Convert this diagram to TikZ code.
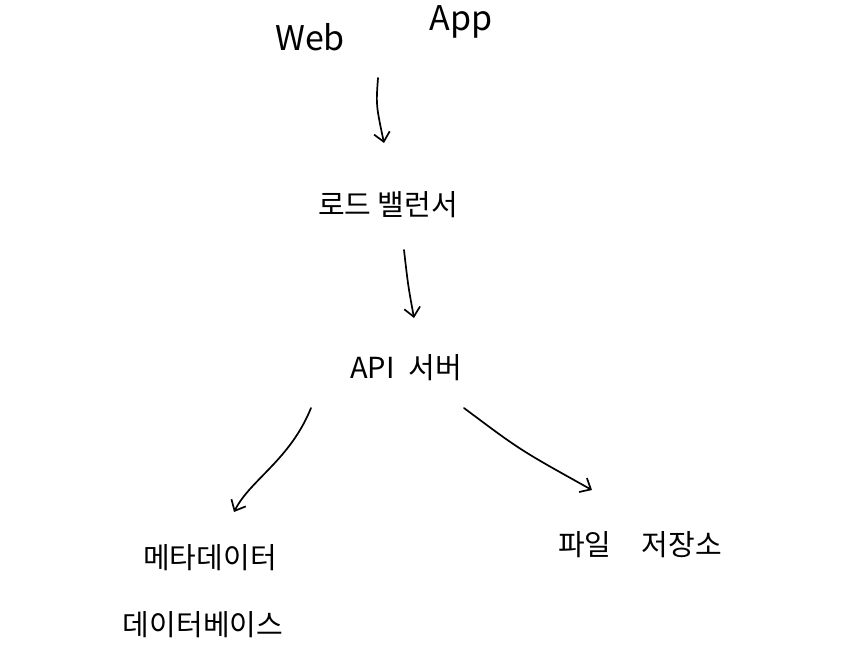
\documentclass[tikz,border=0pt]{standalone}
\usepackage{fontspec}
\setmainfont{Noto Sans CJK KR}
\usetikzlibrary{arrows.meta}
\begin{document}
\begin{tikzpicture}[x=1pt,y=-1pt,
  lbl/.style={inner sep=0pt, font=\fontsize{29}{33}\selectfont},
  latin/.style={inner sep=0pt, font=\fontsize{34}{38}\selectfont},
  conn/.style={line width=1.7pt, line cap=round, -{Straight Barb[length=9pt,width=16pt,line width=1.7pt]}}]
\useasboundingbox (0,0) rectangle (847,665);
\node[latin] (web) at (310,37) {Web};
\node[latin] (app) at (461,22) {App};
\coordinate (a1s) at (378,78);
\coordinate (a1e) at (384,143);
\node[lbl] (lb) at (388,205) {로드 밸런서};
\coordinate (a2s) at (404,250);
\coordinate (a2e) at (414,318);
\node[lbl] (api) at (406,368) {API\hspace{14pt}서버};
\coordinate (a3s) at (311,408);
\coordinate (a3e) at (234,512);
\coordinate (a4s) at (464,408);
\coordinate (a4e) at (592,490);
\node[lbl] (meta) at (210,558) {메타데이터};
\node[lbl] (db) at (203,625) {데이터베이스};
\node[lbl] (file) at (640,545) {파일\hspace{30pt}저장소};
\draw[conn] (a1s) .. controls (376,105) .. (a1e);
\draw[conn] (a2s) .. controls (408,285) .. (a2e);
\draw[conn] (a3s) .. controls (290,460) and (250,480) .. (a3e);
\draw[conn] (a4s) .. controls (520,450) .. (a4e);
\end{tikzpicture}
\end{document}
